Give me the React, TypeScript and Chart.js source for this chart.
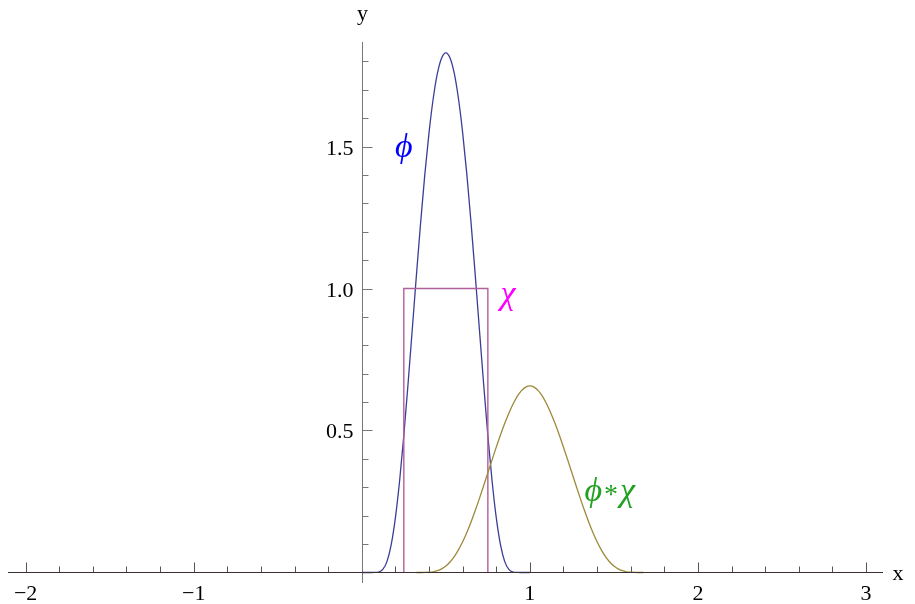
import React, { useEffect, useRef } from "react";
import { Chart, registerables } from "chart.js";

Chart.register(...registerables);

// phi(x): smooth bump on [0,1]
const phiX = [0, 0.05, 0.075, 0.1, 0.125, 0.15, 0.175, 0.2, 0.225, 0.25, 0.275, 0.3, 0.325, 0.35, 0.375, 0.4, 0.425, 0.45, 0.475, 0.5,
  0.525, 0.55, 0.575, 0.6, 0.625, 0.65, 0.675, 0.7, 0.725, 0.75, 0.775, 0.8, 0.825, 0.85, 0.875, 0.9, 0.925, 0.95, 1];
const phiY = [0, 0, 0.0001, 0.0015, 0.0107, 0.0392, 0.0981, 0.193, 0.323, 0.482, 0.663, 0.854, 1.047, 1.232, 1.402, 1.549, 1.669, 1.758, 1.812, 1.83,
  1.812, 1.758, 1.669, 1.549, 1.402, 1.232, 1.047, 0.854, 0.663, 0.482, 0.323, 0.193, 0.0981, 0.0392, 0.0107, 0.0015, 0.0001, 0, 0];

// chi(x): indicator of [0.25, 0.75]
const chiX = [0.25, 0.25, 0.75, 0.75];
const chiY = [0, 1, 1, 0];

// (phi * chi)(x)
const convX = [0.325, 0.35, 0.375, 0.4, 0.425, 0.45, 0.475, 0.5, 0.525, 0.55, 0.575, 0.6, 0.625, 0.65, 0.675, 0.7, 0.725, 0.75, 0.775, 0.8,
  0.825, 0.85, 0.875, 0.9, 0.925, 0.95, 0.975, 1.0, 1.025, 1.05, 1.075, 1.1, 1.125, 1.15, 1.175, 1.2, 1.225, 1.25, 1.275, 1.3, 1.325,
  1.35, 1.375, 1.4, 1.425, 1.45, 1.475, 1.5, 1.525, 1.55, 1.575, 1.6, 1.625, 1.65, 1.675];
const convY = [0, 0.00002, 0.00017, 0.0008, 0.0025, 0.0062, 0.0126, 0.0227, 0.037, 0.0559, 0.0797, 0.1082, 0.1411, 0.178, 0.2182, 0.2611, 0.3057, 0.3512, 0.3967, 0.4413,
  0.4842, 0.5244, 0.5611, 0.5934, 0.6202, 0.6403, 0.6528, 0.657, 0.6528, 0.6403, 0.6202, 0.5934, 0.5611, 0.5244, 0.4842, 0.4413, 0.3967, 0.3512, 0.3057, 0.2611, 0.2182,
  0.178, 0.1411, 0.1082, 0.0797, 0.0559, 0.037, 0.0227, 0.0126, 0.0062, 0.0025, 0.0008, 0.00017, 0.00002, 0];

// ticks
const xMajorTicks = [-2, -1, 1, 2, 3];
const xTickLabels = ["\u22122", "\u22121", "1", "2", "3"];
const xMinorTicks = [-1.8, -1.6, -1.4, -1.2, -0.8, -0.6, -0.4, -0.2, 0.2, 0.4, 0.6, 0.8, 1.2, 1.4, 1.6, 1.8, 2.2, 2.4, 2.6, 2.8];
const yMajorTicks = [0.5, 1.0, 1.5];
const yTickLabels = ["0.5", "1.0", "1.5"];
const yMinorTicks = [0.1, 0.2, 0.3, 0.4, 0.6, 0.7, 0.8, 0.9, 1.1, 1.2, 1.3, 1.4, 1.6, 1.7, 1.8];

// curve labels: pieces of text with a vertical offset, placed at a data point (left edge)
const curveLabels = [
  { parts: [{ t: "\u03d5", dy: 0 }], x: 0.198, y: 1.495, color: "#0000ff" },
  { parts: [{ t: "\u03c7", dy: 0 }], x: 0.825, y: 0.977, color: "#ff00ff" },
  { parts: [{ t: "\u03d5", dy: 0 }, { t: "*", dy: 4 }, { t: "\u03c7", dy: 0 }], x: 1.325, y: 0.283, color: "#22a022" },
];

const toPts = (xs: number[], ys: number[]) => xs.map((x, i) => ({ x, y: ys[i] }));

const axesPlugin = {
  id: "mmaAxes",
  beforeDatasetsDraw(chart: any) {
    const { ctx, chartArea, scales } = chart;
    const xs = scales.x, ys = scales.y;
    const x0 = Math.round(xs.getPixelForValue(0)) + 0.5;
    const y0 = Math.round(ys.getPixelForValue(0)) + 0.5;
    ctx.save();
    ctx.lineWidth = 1;
    const seg = (a: number, b: number, c: number, d: number) => {
      ctx.beginPath(); ctx.moveTo(a, b); ctx.lineTo(c, d); ctx.stroke();
    };
    ctx.strokeStyle = "#777777";
    seg(x0, chartArea.bottom, x0, chartArea.top);
    yMinorTicks.forEach((v) => { const p = Math.round(ys.getPixelForValue(v)) + 0.5; seg(x0, p, x0 + 6, p); });
    yMajorTicks.forEach((v) => { const p = Math.round(ys.getPixelForValue(v)) + 0.5; seg(x0, p, x0 + 10, p); });
    ctx.strokeStyle = "#555555";
    xMinorTicks.forEach((v) => { const p = Math.round(xs.getPixelForValue(v)) + 0.5; seg(p, y0, p, y0 - 6); });
    xMajorTicks.forEach((v) => { const p = Math.round(xs.getPixelForValue(v)) + 0.5; seg(p, y0, p, y0 - 10); });

    ctx.fillStyle = "#000000";
    ctx.font = "22px 'Liberation Serif'";
    ctx.textBaseline = "alphabetic";
    ctx.textAlign = "center";
    xMajorTicks.forEach((v, i) => {
      ctx.fillText(xTickLabels[i], xs.getPixelForValue(v), y0 + 27);
    });
    ctx.textAlign = "right";
    yMajorTicks.forEach((v, i) => {
      ctx.fillText(yTickLabels[i], x0 - 9, ys.getPixelForValue(v) + 8);
    });
    ctx.textAlign = "center";
    ctx.fillText("x", chartArea.right + 15, y0 + 7);
    ctx.fillText("y", x0, chartArea.top - 22);
    ctx.restore();
  },
  afterDatasetsDraw(chart: any) {
    const { ctx, chartArea, scales } = chart;
    const y0 = Math.round(scales.y.getPixelForValue(0)) + 0.5;
    ctx.save();
    ctx.strokeStyle = "#3a3030";
    ctx.lineWidth = 1.2;
    ctx.beginPath(); ctx.moveTo(chartArea.left, y0); ctx.lineTo(chartArea.right, y0); ctx.stroke();

    ctx.textAlign = "left";
    ctx.textBaseline = "middle";
    curveLabels.forEach((l) => {
      ctx.fillStyle = l.color;
      let px = scales.x.getPixelForValue(l.x);
      const py = scales.y.getPixelForValue(l.y);
      l.parts.forEach((p) => {
        const star = p.t === "*";
        ctx.font = star ? "28px 'Liberation Serif'" : "italic 34px 'Liberation Serif'";
        if (star) px += 2;
        ctx.fillText(p.t, px, py + p.dy);
        px += ctx.measureText(p.t).width + (star ? 2 : 0);
      });
    });
    ctx.restore();
  },
};

export default function App() {
  const ref = useRef<HTMLCanvasElement | null>(null);
  useEffect(() => {
    if (!ref.current) return;
    const chart = new Chart(ref.current, {
      type: "scatter",
      data: {
        datasets: [
          {
            data: toPts(phiX, phiY),
            showLine: true,
            borderColor: "#3d3d99",
            borderWidth: 1.3,
            pointRadius: 0,
            cubicInterpolationMode: "monotone",
            order: 2,
          },
          {
            data: toPts(chiX, chiY),
            showLine: true,
            borderColor: "#b0609a",
            borderWidth: 1.4,
            pointRadius: 0,
            tension: 0,
            order: 1,
          },
          {
            data: toPts(convX, convY),
            showLine: true,
            borderColor: "#9c8a3a",
            borderWidth: 1.3,
            pointRadius: 0,
            cubicInterpolationMode: "monotone",
            order: 0,
          },
        ],
      } as any,
      options: {
        responsive: false,
        animation: false,
        devicePixelRatio: 1,
        layout: { padding: { left: 8, right: 32, top: 42, bottom: 21 } },
        scales: {
          x: { type: "linear", min: -2.105, max: 3.101, display: false },
          y: { type: "linear", min: -0.037, max: 1.868, display: false },
        },
        plugins: { legend: { display: false }, tooltip: { enabled: false } },
      } as any,
      plugins: [axesPlugin],
    });
    return () => chart.destroy();
  }, []);
  return (
    <div style={{ position: "fixed", left: 0, top: 0, width: 915, height: 604, background: "#fff" }}>
      <canvas ref={ref} width={915} height={604} style={{ width: 915, height: 604 }} />
    </div>
  );
}
